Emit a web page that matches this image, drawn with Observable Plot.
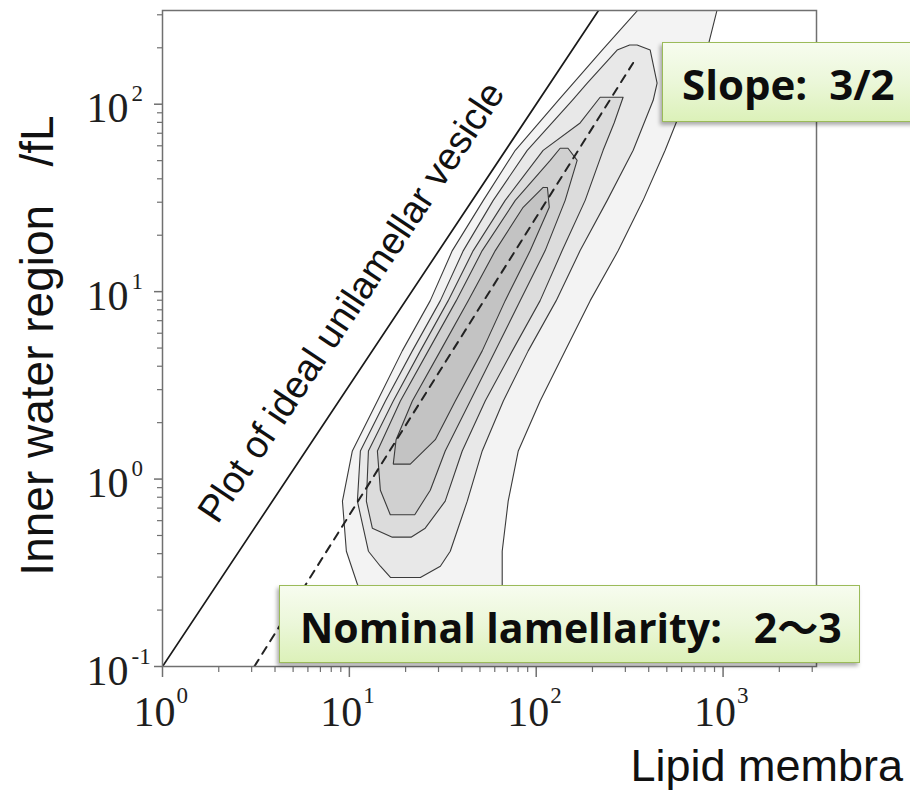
<!DOCTYPE html>
<html><head><meta charset="utf-8">
<script src="https://cdn.jsdelivr.net/npm/d3@7"></script>
<script src="https://cdn.jsdelivr.net/npm/@observablehq/plot@0.6"></script>
<style>
html,body{margin:0;padding:0;background:#fff;}
#wrap{position:relative;width:910px;height:790px;overflow:hidden;background:#fff;}
#wrap svg{position:absolute;left:0;top:0;}
.box{position:absolute;border:1.5px solid #9bbb59;background:linear-gradient(to bottom,#f7fcef 0%,#ebf7d9 50%,#dcf1b9 100%);box-shadow:-2px 3px 4px rgba(0,0,0,0.33);box-sizing:border-box;}
.btxt{position:absolute;font-family:"Open Sans","Noto Sans CJK JP",sans-serif;font-weight:700;line-height:1;color:#0d0d0d;white-space:pre;}
</style></head><body><div id="wrap"></div>
<script>
// ---- axis ticks ----
const xTicks = [1, 10, 100, 1000];
const xExponents = ["0", "1", "2", "3"];
const xMinorTicks = [2,3,4,5,6,7,8,9,20,30,40,50,60,70,80,90,200,300,400,500,600,700,800,900,2000,3000];
const yTicks = [0.1, 1, 10, 100];
const yExponents = ["-1", "0", "1", "2"];
const yMinorTicks = [0.2,0.3,0.4,0.5,0.6,0.7,0.8,0.9,2,3,4,5,6,7,8,9,20,30,40,50,60,70,80,90,200,300];

// ---- reference lines (lipid area, inner volume) ----
const idealLine = [{x: 1, y: 0.1}, {x: 215.4, y: 316.2}];
const lamellarLine = [{x: 3.1, y: 0.1}, {x: 330, y: 166}];
const idealLabel = [{x: 1.97, y: 0.568, text: "Plot of ideal unilamellar vesicle"}];

// ---- density contours: rows of [log10 y, log10 x (left edge), log10 x (right edge)] ----
const contour1 = [
  [2.503, 2.545, 2.968], [2.289, 2.353, 2.914], [2.021, 2.118, 2.797], [1.754, 1.888, 2.690],
  [1.487, 1.717, 2.572], [1.219, 1.551, 2.439], [0.952, 1.433, 2.289], [0.684, 1.283, 2.155],
  [0.417, 1.150, 2.021], [0.150, 1.016, 1.904], [-0.118, 0.963, 1.850], [-0.385, 0.984, 1.818],
  [-0.561, 1.043, 1.818], [-0.68, 1.10, 1.818]
];
const contour2 = [
  [2.316, 2.50, 2.54], [2.289, 2.433, 2.610], [2.112, 2.273, 2.647], [2.021, 2.193, 2.626],
  [1.754, 1.952, 2.519], [1.487, 1.770, 2.380], [1.219, 1.610, 2.235], [0.952, 1.487, 2.107],
  [0.684, 1.337, 1.957], [0.417, 1.193, 1.824], [0.150, 1.059, 1.711], [-0.118, 1.043, 1.631],
  [-0.385, 1.102, 1.540], [-0.465, 1.166, 1.487], [-0.525, 1.22, 1.38]
];
const contour3 = [
  [2.037, 2.342, 2.465], [1.90, 2.235, 2.417], [1.754, 2.037, 2.358], [1.487, 1.834, 2.262],
  [1.219, 1.663, 2.139], [0.952, 1.529, 2.021], [0.684, 1.380, 1.872], [0.417, 1.235, 1.727],
  [0.150, 1.102, 1.604], [-0.118, 1.091, 1.513], [-0.262, 1.123, 1.406], [-0.31, 1.23, 1.33]
];
const contour4 = [
  [1.765, 2.128, 2.17], [1.70, 2.075, 2.219], [1.487, 1.888, 2.155], [1.219, 1.711, 2.048],
  [0.952, 1.572, 1.914], [0.684, 1.422, 1.781], [0.417, 1.273, 1.647], [0.150, 1.150, 1.513],
  [-0.06, 1.166, 1.433], [-0.19, 1.219, 1.35]
];
const contour5 = [
  [1.556, 2.037, 2.06], [1.45, 1.93, 2.07], [1.219, 1.781, 1.968], [0.952, 1.636, 1.834],
  [0.684, 1.487, 1.711], [0.417, 1.337, 1.567], [0.21, 1.25, 1.46], [0.08, 1.235, 1.326]
];
const contourFills = ["#f3f3f3", "#e8e8e8", "#dcdcdc", "#d0d0d0", "#c3c3c3"];

function ring(rows) {
  const left = rows.map(([ly, l]) => ({x: 10 ** l, y: 10 ** ly}));
  const right = rows.slice().reverse().map(([ly, , r]) => ({x: 10 ** r, y: 10 ** ly}));
  return [...left, ...right, left[0]];
}

const axisStroke = "#707070";
const labelFill = "#1e1e1e";
const contours = [contour1, contour2, contour3, contour4, contour5];

const chart = Plot.plot({
  width: 910, height: 790,
  marginLeft: 162, marginRight: 94, marginTop: 10, marginBottom: 124,
  x: {type: "log", domain: [1, 10 ** 3.5], axis: null},
  y: {type: "log", domain: [0.1, 10 ** 2.5], axis: null},
  marks: [
    ...contours.map((c, i) => Plot.line(ring(c), {x: "x", y: "y", fill: contourFills[i], stroke: "#3a3a3a", strokeWidth: 1.1, clip: true})),
    Plot.line(idealLine, {x: "x", y: "y", stroke: "#1a1a1a", strokeWidth: 1.7, clip: true}),
    Plot.line(lamellarLine, {x: "x", y: "y", stroke: "#222", strokeWidth: 2, strokeDasharray: "8,7", clip: true}),
    Plot.frame({stroke: axisStroke, strokeWidth: 1.5}),
    Plot.axisX(xTicks, {anchor: "bottom", tickSize: 11, tickFormat: () => "", stroke: axisStroke, strokeWidth: 1.5, label: null}),
    Plot.axisX(xMinorTicks, {anchor: "bottom", tickSize: 6, tickFormat: () => "", stroke: axisStroke, strokeWidth: 1.2, label: null}),
    Plot.axisY(yTicks, {anchor: "left", tickSize: 8, tickFormat: () => "", stroke: axisStroke, strokeWidth: 1.5, label: null}),
    Plot.axisY(yMinorTicks, {anchor: "left", tickSize: 5, tickFormat: () => "", stroke: axisStroke, strokeWidth: 1.2, label: null}),
    Plot.text(xTicks, {x: d => d, frameAnchor: "bottom", text: () => "10", textAnchor: "end", lineAnchor: "bottom", dx: 13, dy: 59, fontSize: 42, fontFamily: "Liberation Serif", fill: labelFill}),
    Plot.text(xTicks, {x: d => d, frameAnchor: "bottom", text: (d, i) => xExponents[i], textAnchor: "start", lineAnchor: "bottom", dx: 14, dy: 36, fontSize: 23, fontFamily: "Liberation Serif", fill: labelFill}),
    Plot.text(yTicks, {y: d => d, frameAnchor: "left", text: () => "10", textAnchor: "end", lineAnchor: "bottom", dx: -34, dy: 18, fontSize: 42, fontFamily: "Liberation Serif", fill: labelFill}),
    Plot.text(yTicks, {y: d => d, frameAnchor: "left", text: (d, i) => yExponents[i], textAnchor: "start", lineAnchor: "bottom", dx: -31, dy: -3, fontSize: 23, fontFamily: "Liberation Serif", fill: labelFill}),
    Plot.text(idealLabel, {x: "x", y: "y", text: "text", rotate: -56.3, textAnchor: "start", lineAnchor: "bottom", fontSize: 38, fontFamily: "Liberation Sans", fill: "#111"}),
    Plot.text(["Inner water region\u00a0\u00a0\u00a0/fL"], {text: d => d, frameAnchor: "left", dx: -110, dy: 7, rotate: -90, textAnchor: "middle", lineAnchor: "bottom", fontSize: 46, fontFamily: "Liberation Sans", fill: "#111"}),
    Plot.text(["Lipid membra"], {text: d => d, frameAnchor: "bottom-left", dx: 468, dy: 114, textAnchor: "start", lineAnchor: "bottom", fontSize: 45, fontFamily: "Liberation Sans", fill: "#111"})
  ]
});

const wrap = document.getElementById("wrap");
wrap.appendChild(chart);
wrap.insertAdjacentHTML("beforeend", `
<div class="box" style="left:662px;top:42px;width:290px;height:80px"></div>
<div class="btxt" style="left:682px;top:62.7px;font-size:42px">Slope:  3/2</div>
<div class="box" style="left:279px;top:585px;width:581px;height:78px"></div>
<div class="btxt" style="left:300px;top:606.6px;font-size:41px">Nominal lamellarity:   2\u301c3</div>
`);
</script></body></html>
